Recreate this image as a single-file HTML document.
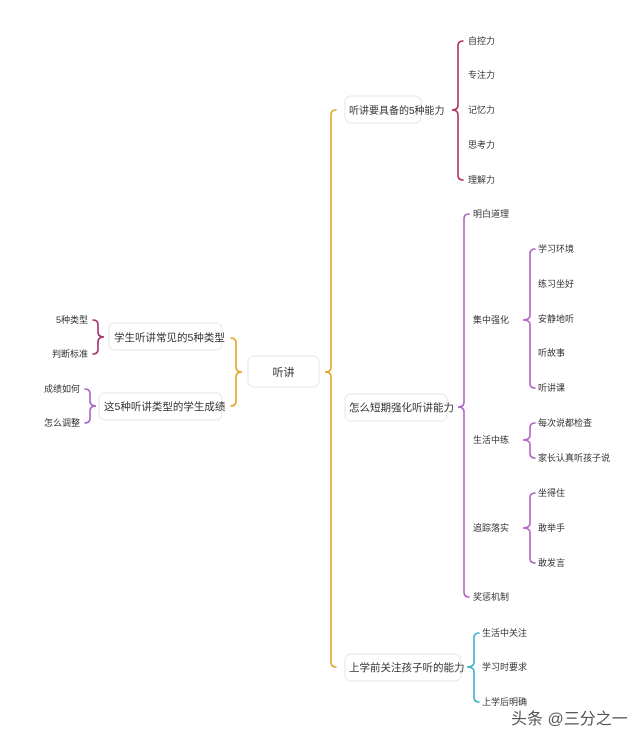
<!DOCTYPE html>
<html><head><meta charset="utf-8"><style>
html,body{margin:0;padding:0;background:#fff}
svg{display:block}
text{font-family:"Liberation Sans","Noto Sans CJK SC",sans-serif;fill:#333}
.s{font-size:9px}
.b{font-size:10.5px}
</style></head><body>
<svg width="640" height="743" viewBox="0 0 640 743" xmlns="http://www.w3.org/2000/svg">
<g fill="none" stroke-width="1.6" stroke-linecap="round">
<path stroke="#e2a629" d="M336 110 Q331 110 331 115 V367 Q331 372 325 372 Q331 372 331 377 V662 Q331 667 336 667"/>
<path stroke="#b2345f" d="M463 41 Q458 41 458 46 V105 Q458 110 452 110 Q458 110 458 115 V175 Q458 180 463 180"/>
<path stroke="#b063c6" d="M469 214 Q464 214 464 219 V402 Q464 407 458 407 Q464 407 464 412 V592 Q464 597 469 597"/>
<path stroke="#b063c6" d="M535 249 Q530 249 530 254 V315 Q530 320 523 320 Q530 320 530 325 V383 Q530 388 535 388"/>
<path stroke="#b063c6" d="M535 423 Q530 423 530 428 V435 Q530 440 523 440 Q530 440 530 445 V453 Q530 458 535 458"/>
<path stroke="#b063c6" d="M535 493 Q530 493 530 498 V523 Q530 528 523 528 Q530 528 530 533 V558 Q530 563 535 563"/>
<path stroke="#3bb3c9" d="M479 633 Q474 633 474 638 V662 Q474 667 467 667 Q474 667 474 672 V697 Q474 702 479 702"/>
<path stroke="#e2a629" d="M231 338 Q236 338 236 343 V367 Q236 372 242 372 Q236 372 236 377 V401 Q236 406 231 406"/>
<path stroke="#a3336d" d="M93 320 Q98 320 98 325 V332 Q98 337 104 337 Q98 337 98 342 V349 Q98 354 93 354"/>
<path stroke="#a565c6" d="M85 389 Q90 389 90 394 V401 Q90 406 96 406 Q90 406 90 411 V418 Q90 423 85 423"/>
</g>
<g fill="#fff" stroke="#e6e6e6" stroke-width="1">
<rect x="248" y="356" width="71" height="31" rx="6"/>
<rect x="345" y="96" width="76" height="27" rx="6"/>
<rect x="345" y="394" width="102" height="27" rx="6"/>
<rect x="345" y="654" width="116" height="27" rx="6"/>
<rect x="109" y="323" width="113" height="27" rx="6"/>
<rect x="99" y="393" width="123" height="27" rx="6"/>
</g>
<text x="283.5" y="376" class="b" text-anchor="middle" style="font-size:11px">听讲</text>
<text x="349" y="114" class="b" style="font-size:10px">听讲要具备的5种能力</text>
<text x="349" y="411" class="b">怎么短期强化听讲能力</text>
<text x="349" y="671" class="b">上学前关注孩子听的能力</text>
<text x="114" y="341" class="b">学生听讲常见的5种类型</text>
<text x="104" y="410" class="b">这5种听讲类型的学生成绩</text>
<g class="s">
<text x="88" y="323" text-anchor="end" class="s">5种类型</text>
<text x="88" y="357" text-anchor="end" class="s">判断标准</text>
<text x="80" y="392" text-anchor="end" class="s">成绩如何</text>
<text x="80" y="426" text-anchor="end" class="s">怎么调整</text>
<text x="468" y="44" class="s">自控力</text>
<text x="468" y="78" class="s">专注力</text>
<text x="468" y="113" class="s">记忆力</text>
<text x="468" y="148" class="s">思考力</text>
<text x="468" y="183" class="s">理解力</text>
<text x="473" y="217" class="s">明白道理</text>
<text x="473" y="323" class="s">集中强化</text>
<text x="473" y="443" class="s">生活中练</text>
<text x="473" y="531" class="s">追踪落实</text>
<text x="473" y="600" class="s">奖惩机制</text>
<text x="538" y="252" class="s">学习环境</text>
<text x="538" y="287" class="s">练习坐好</text>
<text x="538" y="322" class="s">安静地听</text>
<text x="538" y="356" class="s">听故事</text>
<text x="538" y="391" class="s">听讲课</text>
<text x="538" y="426" class="s">每次说都检查</text>
<text x="538" y="461" class="s">家长认真听孩子说</text>
<text x="538" y="496" class="s">坐得住</text>
<text x="538" y="531" class="s">敢举手</text>
<text x="538" y="566" class="s">敢发言</text>
<text x="482" y="636" class="s">生活中关注</text>
<text x="482" y="670" class="s">学习时要求</text>
<text x="482" y="705" class="s">上学后明确</text>
</g>
<text x="511" y="724" style="font-size:16px;fill:#555">头条 @三分之一</text>
</svg>
</body></html>
